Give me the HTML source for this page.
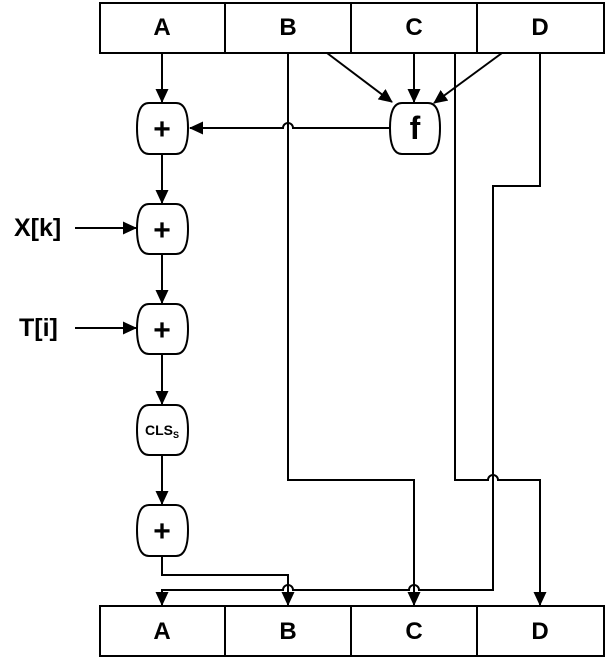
<!DOCTYPE html>
<html><head><style>
html,body{margin:0;padding:0;background:#fff;width:606px;height:659px;overflow:hidden}
svg{position:absolute;left:0;top:0;display:block}
.t{position:absolute;font-family:"Liberation Sans",Arial,sans-serif;font-weight:bold;color:#000;line-height:1;text-align:center;white-space:nowrap}
.l{font-size:24px;width:60px}
.p{font-size:30px;width:40px}
</style></head>
<body>
<svg width="606" height="659" viewBox="0 0 606 659" xmlns="http://www.w3.org/2000/svg">
<defs>
<marker id="ar" markerWidth="14" markerHeight="14" refX="13" refY="6.5" orient="auto" markerUnits="userSpaceOnUse">
<path d="M0,0 L14,6.5 L0,13 z" fill="#000"/>
</marker>
</defs>
<g stroke="#000" stroke-width="2" fill="#fff">
<rect x="100" y="3" width="504" height="50"/>
<line x1="225" y1="3" x2="225" y2="53"/><line x1="351" y1="3" x2="351" y2="53"/><line x1="477" y1="3" x2="477" y2="53"/>
<rect x="100" y="606" width="504" height="50"/>
<line x1="225" y1="606" x2="225" y2="656"/><line x1="351" y1="606" x2="351" y2="656"/><line x1="477" y1="606" x2="477" y2="656"/>
</g>
<g stroke="#000" stroke-width="2" fill="none">
<line x1="162" y1="53" x2="162" y2="102" marker-end="url(#ar)"/>
<line x1="162" y1="154" x2="162" y2="203" marker-end="url(#ar)"/>
<line x1="162" y1="254" x2="162" y2="303" marker-end="url(#ar)"/>
<line x1="162" y1="354" x2="162" y2="404" marker-end="url(#ar)"/>
<line x1="162" y1="455" x2="162" y2="504" marker-end="url(#ar)"/>
<line x1="75" y1="228" x2="136" y2="228" marker-end="url(#ar)"/>
<line x1="75" y1="328" x2="136" y2="328" marker-end="url(#ar)"/>
<line x1="327" y1="53" x2="392" y2="102" marker-end="url(#ar)"/>
<line x1="414" y1="53" x2="414" y2="102" marker-end="url(#ar)"/>
<line x1="502" y1="53" x2="434" y2="103" marker-end="url(#ar)"/>
<path d="M390,128 L293,128 A5,5 0 0 0 283,128 L190,128" marker-end="url(#ar)"/>
<path d="M288,53 L288,480 L414,480 L414,605" marker-end="url(#ar)"/>
<path d="M455,53 L455,480 L488,480 A5,5 0 0 1 498,480 L540,480 L540,605" marker-end="url(#ar)"/>
<path d="M540,53 L540,186 L493,186 L493,590 L419,590 A5,5 0 0 0 409,590 L293,590 A5,5 0 0 0 283,590 L162,590 L162,605" marker-end="url(#ar)"/>
<path d="M162,556 L162,575 L288,575 L288,605" marker-end="url(#ar)"/>
</g>
<g stroke="#000" stroke-width="2" fill="#fff">
<path d="M149,103 L176,103 Q188,103 188,128 Q188,154 176,154 L149,154 Q137,154 137,128 Q137,103 149,103 Z"/>
<path d="M149,204 L176,204 Q188,204 188,229 Q188,254 176,254 L149,254 Q137,254 137,229 Q137,204 149,204 Z"/>
<path d="M149,304 L176,304 Q188,304 188,329 Q188,354 176,354 L149,354 Q137,354 137,329 Q137,304 149,304 Z"/>
<path d="M149,405 L176,405 Q188,405 188,430 Q188,455 176,455 L149,455 Q137,455 137,430 Q137,405 149,405 Z"/>
<path d="M149,505 L176,505 Q188,505 188,530 Q188,556 176,556 L149,556 Q137,556 137,530 Q137,505 149,505 Z"/>
<path d="M402,103 L428,103 Q440,103 440,128 Q440,154 428,154 L402,154 Q390,154 390,128 Q390,103 402,103 Z"/>
</g>
</svg>
<div class="t l" style="left:132px;top:16px">A</div>
<div class="t l" style="left:258px;top:16px">B</div>
<div class="t l" style="left:384px;top:16px">C</div>
<div class="t l" style="left:510px;top:16px">D</div>
<div class="t l" style="left:132px;top:620px">A</div>
<div class="t l" style="left:258px;top:620px">B</div>
<div class="t l" style="left:384px;top:620px">C</div>
<div class="t l" style="left:510px;top:620px">D</div>
<div class="t p" style="left:142px;top:115px">+</div>
<div class="t p" style="left:142px;top:216px">+</div>
<div class="t p" style="left:142px;top:316px">+</div>
<div class="t p" style="left:142px;top:517px">+</div>
<div class="t" style="left:395px;top:112px;width:40px;font-size:32px">f</div>
<div class="t" style="left:137px;top:423px;width:50px;font-size:14px">CLS<span style="font-size:9px;position:relative;top:3px">S</span></div>
<div class="t" style="left:14px;top:216px;font-size:25px;text-align:left">X[k]</div>
<div class="t" style="left:19px;top:316px;font-size:25px;text-align:left">T[i]</div>
</body></html>
